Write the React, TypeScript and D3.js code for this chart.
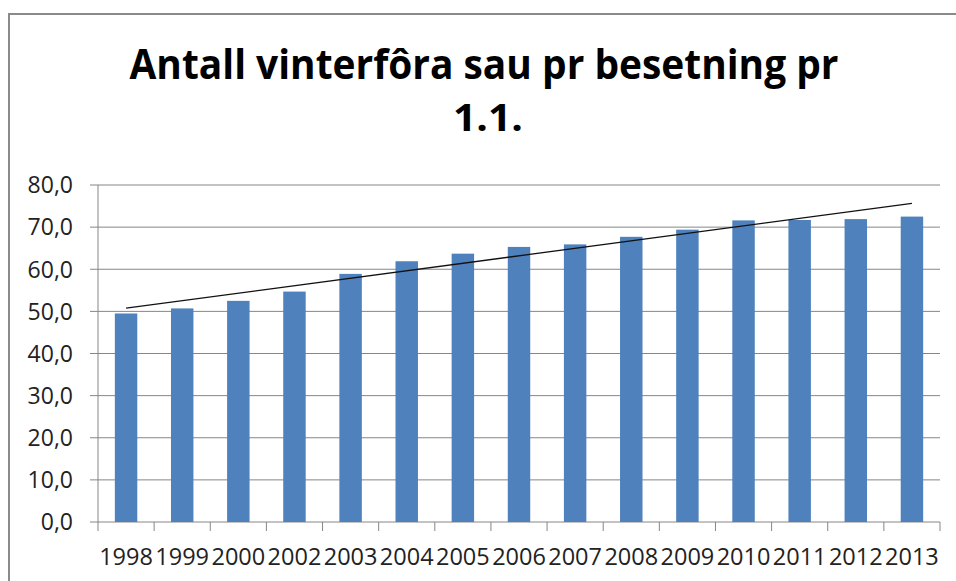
import React from 'react';
import * as d3 from 'd3';

// data
const years = ['1998', '1999', '2000', '2002', '2003', '2004', '2005', '2006', '2007', '2008', '2009', '2010', '2011', '2012', '2013'];
const sheep = [49.5, 50.7, 52.5, 54.7, 58.9, 61.9, 63.7, 65.3, 65.9, 67.7, 69.4, 71.6, 71.7, 71.9, 72.5];
const yTicks = [0, 10, 20, 30, 40, 50, 60, 70, 80];
const titleLines = ['Antall vinterfôra sau pr besetning pr', '1.1.'];

const W = 956;
const H = 581;
const plot = { left: 98, right: 940, top: 185, bottom: 522 };
const gridColor = '#868686';
const barColor = '#4F81BD';
const font = '"Open Sans", "Liberation Sans", Arial, sans-serif';

const App: React.FC = () => {
    const x = d3.scaleBand<string>()
        .domain(years)
        .range([plot.left, plot.right])
        .paddingInner(0.6)
        .paddingOuter(0.3);

    const y = d3.scaleLinear()
        .domain([0, 80])
        .range([plot.bottom, plot.top]);

    const fmt = (v: number) => v.toFixed(1).replace('.', ',');

    // linear trendline (least squares over category index)
    const n = sheep.length;
    const xs = d3.range(n);
    const mx = d3.mean(xs) as number;
    const my = d3.mean(sheep) as number;
    const slope = d3.sum(xs, i => (i - mx) * (sheep[i] - my)) / d3.sum(xs, i => (i - mx) ** 2);
    const icpt = my - slope * mx;
    const center = (i: number) => (x(years[i]) as number) + x.bandwidth() / 2;
    const trend = d3.line<number>()
        .x(i => center(i))
        .y(i => y(icpt + slope * i));

    const boundaries = d3.range(n + 1).map(i => plot.left + i * (plot.right - plot.left) / n);

    return (
        <svg width={W} height={H} style={{ position: 'absolute', left: 0, top: 0, background: '#fff' }}>
            {/* outer chart border */}
            <line x1={9} x2={W} y1={14} y2={14} stroke="#8a8a8a" strokeWidth={2} />
            <line x1={9} x2={9} y1={13} y2={H} stroke="#8a8a8a" strokeWidth={2} />

            {/* title */}
            <text x={484} y={79} textAnchor="middle" fontFamily={font} fontWeight="bold" fontSize={41}
                textLength={709} lengthAdjust="spacingAndGlyphs" fill="#000">{titleLines[0]}</text>
            <text x={488} y={131} textAnchor="middle" fontFamily={font} fontWeight="bold" fontSize={37}
                textLength={70} lengthAdjust="spacingAndGlyphs" fill="#000">{titleLines[1]}</text>

            {/* gridlines + y labels */}
            {yTicks.map(t => (
                <g key={t}>
                    <line x1={plot.left - 8} x2={plot.right} y1={y(t)} y2={y(t)} stroke={gridColor} strokeWidth={1} />
                    <text x={73} y={y(t)} dy="0.36em" textAnchor="end" fontFamily={font} fontSize={23}
                        fill="#222">{fmt(t)}</text>
                </g>
            ))}
            <line x1={plot.left} x2={plot.left} y1={plot.top} y2={plot.bottom} stroke={gridColor} strokeWidth={1} />

            {/* bars */}
            {sheep.map((v, i) => (
                <rect key={years[i]} x={x(years[i])} y={y(v)} width={x.bandwidth()} height={y(0) - y(v)} fill={barColor} />
            ))}

            {/* x axis ticks + labels */}
            {boundaries.map((bx, i) => (
                <line key={i} x1={bx} x2={bx} y1={plot.bottom} y2={plot.bottom + 9} stroke={gridColor} strokeWidth={1} />
            ))}
            {years.map((yr, i) => (
                <text key={yr} x={center(i)} y={565} textAnchor="middle" fontFamily={font} fontSize={23.5}
                    fill="#222">{yr}</text>
            ))}

            {/* trendline */}
            <path d={trend([0, n - 1]) as string} fill="none" stroke="#111" strokeWidth={1.3} />
        </svg>
    );
};

export default App;
